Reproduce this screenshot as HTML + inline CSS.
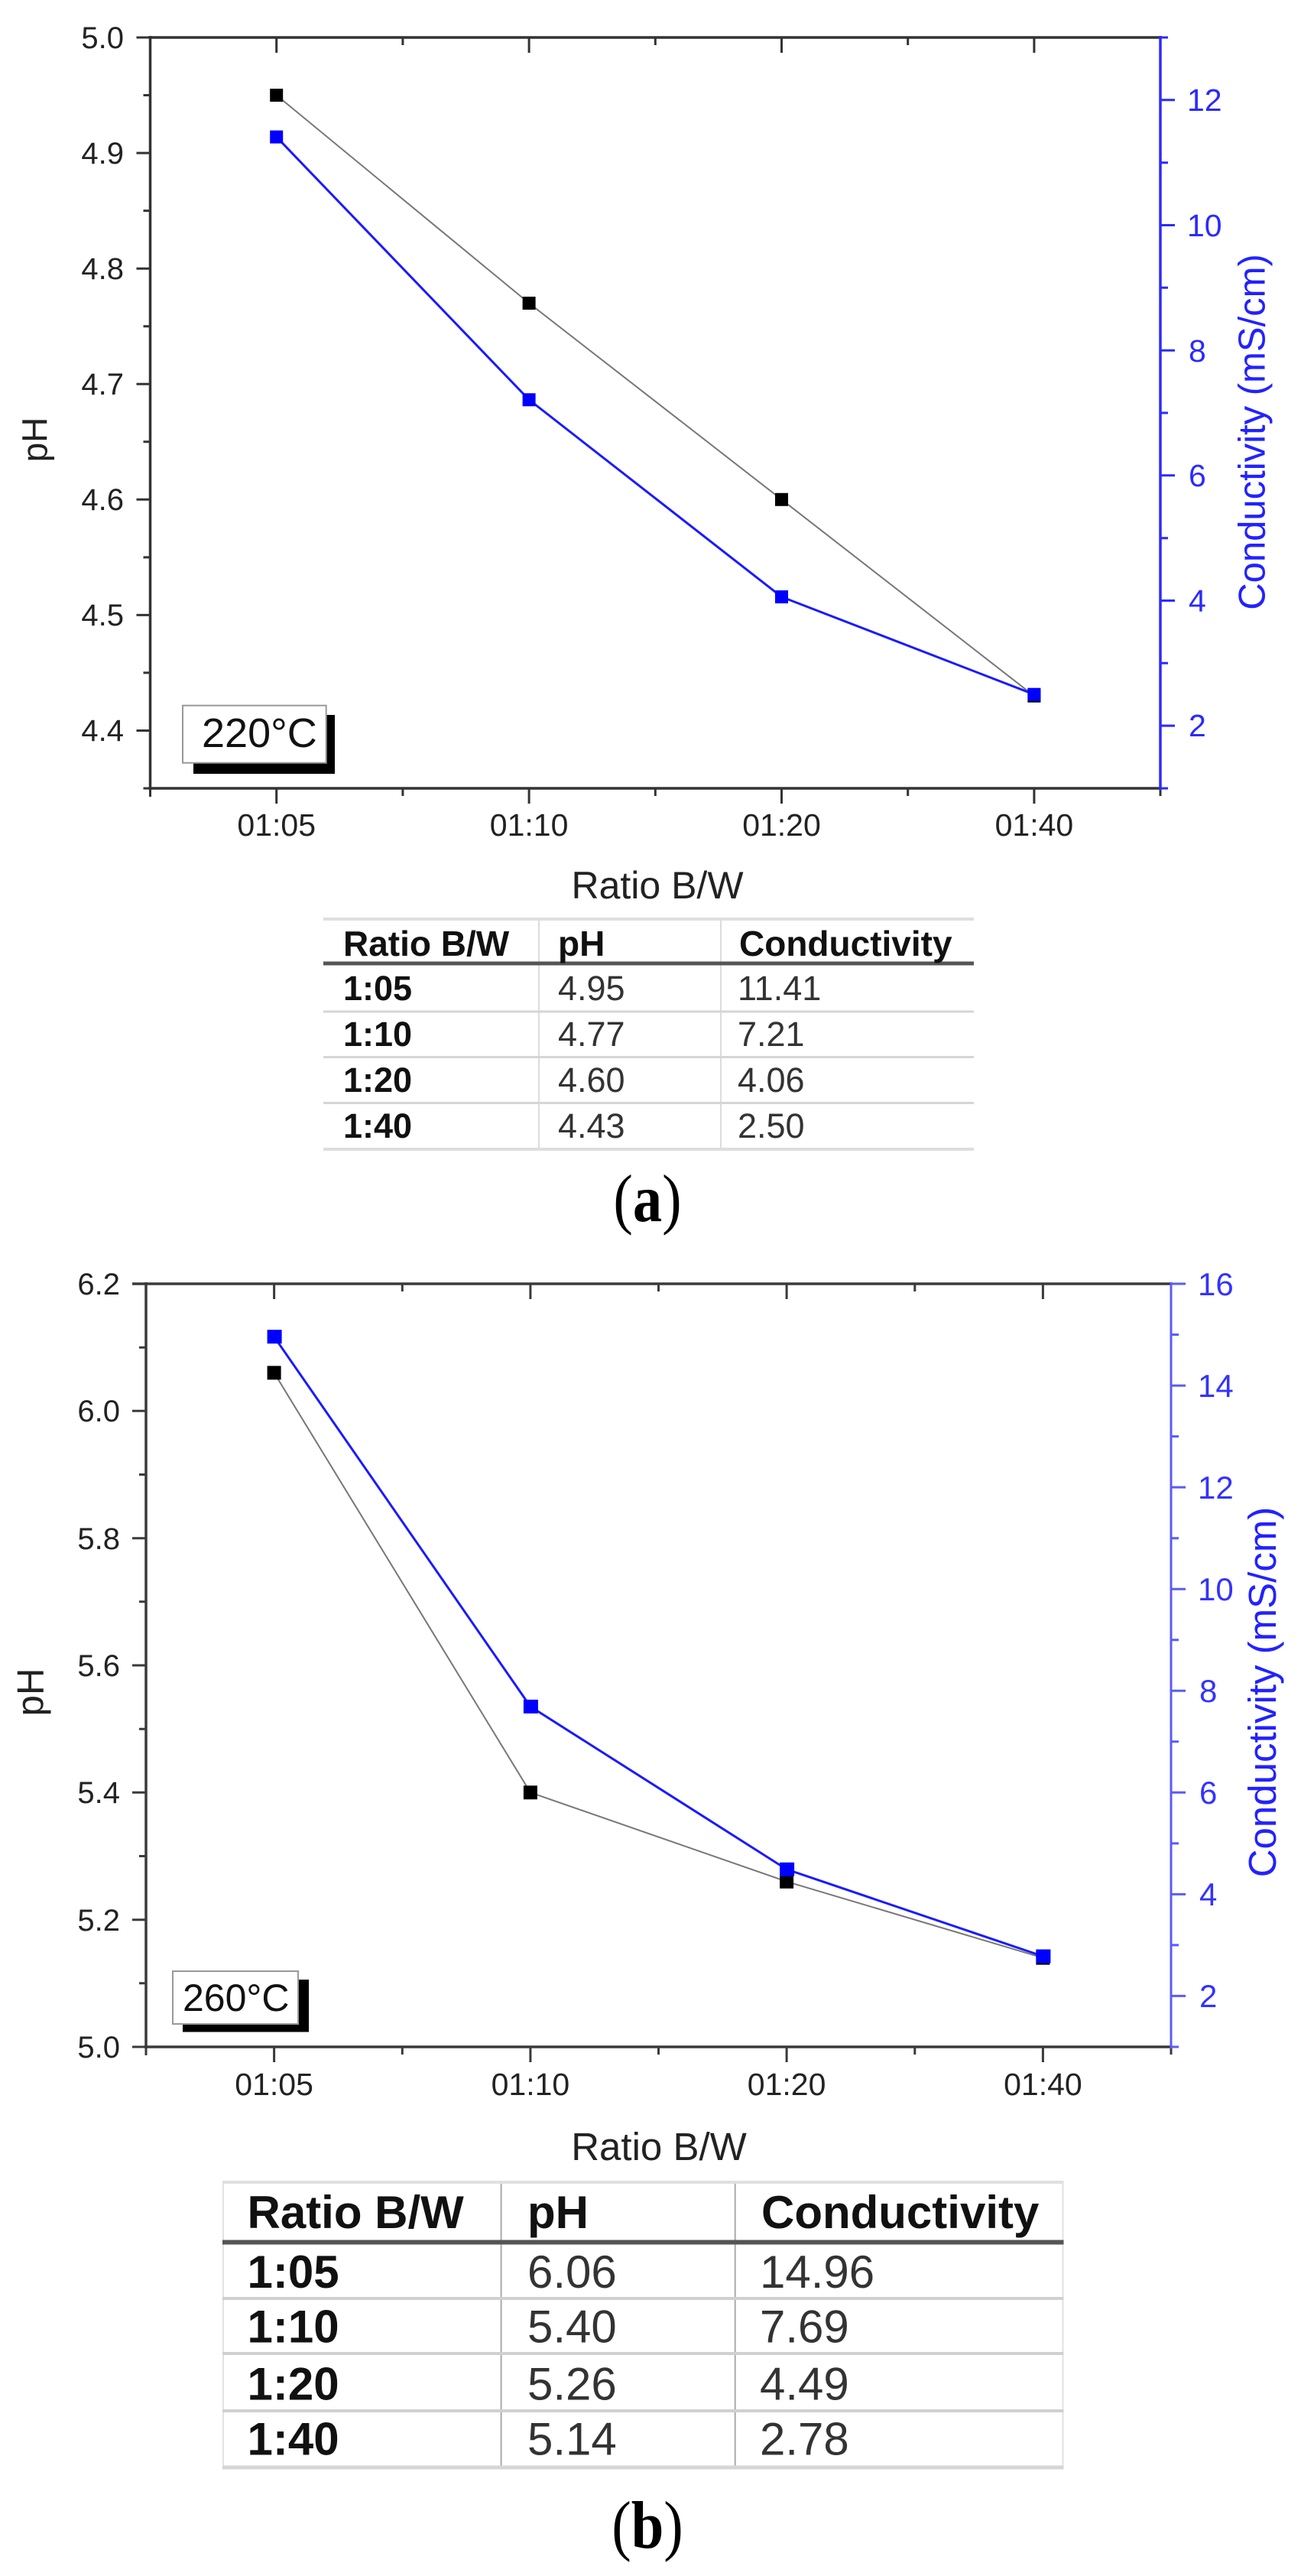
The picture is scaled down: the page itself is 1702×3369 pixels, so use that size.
<!DOCTYPE html>
<html><head><meta charset="utf-8"><style>
html,body{margin:0;padding:0;background:#fff;}
svg{display:block;}
text{font-family:"Liberation Sans",Arial,sans-serif;}
.serif{font-family:"Liberation Serif","Times New Roman",serif;}
</style></head><body>
<svg width="1702" height="3369" viewBox="0 0 1702 3369" xmlns="http://www.w3.org/2000/svg">
<rect width="1702" height="3369" fill="#fff"/>

<!-- ================= PANEL A ================= -->
<g fill="none" stroke="#333" stroke-width="3.5">
<line x1="194.5" y1="49" x2="1518" y2="49"/>
<line x1="194.5" y1="1031" x2="1518" y2="1031"/>
<line x1="196.5" y1="47" x2="196.5" y2="1033"/>
</g>
<g stroke="#333" stroke-width="3">
<!-- left major -->
<path d="M196.5 49h-18M196.5 200.1h-18M196.5 351.2h-18M196.5 502.2h-18M196.5 653.3h-18M196.5 804.4h-18M196.5 955.5h-18"/>
<!-- left minor -->
<path d="M196.5 124.5h-9M196.5 275.6h-9M196.5 426.7h-9M196.5 577.8h-9M196.5 728.9h-9M196.5 879.9h-9M196.5 1031h-9"/>
<!-- bottom -->
<path d="M361.7 1031v20M692.1 1031v20M1022.5 1031v20M1352.9 1031v20"/>
<path d="M196.5 1031v11M526.9 1031v10M857.3 1031v10M1187.7 1031v10M1518 1031v10"/>
<!-- top -->
<path d="M361.7 49v20M692.1 49v20M1022.5 49v20M1352.9 49v20"/>
<path d="M526.9 49v10M857.3 49v10M1187.7 49v10"/>
</g>
<g font-size="40" fill="#222" text-anchor="end">
<text x="162" y="63">5.0</text>
<text x="162" y="214">4.9</text>
<text x="162" y="365">4.8</text>
<text x="162" y="516">4.7</text>
<text x="162" y="667">4.6</text>
<text x="162" y="818">4.5</text>
<text x="162" y="969">4.4</text>
</g>
<g font-size="41" fill="#222" text-anchor="middle">
<text x="361.7" y="1093">01:05</text>
<text x="692.1" y="1093">01:10</text>
<text x="1022.5" y="1093">01:20</text>
<text x="1352.9" y="1093">01:40</text>
</g>
<!-- right axis -->
<line x1="1518" y1="47" x2="1518" y2="1033" stroke="#2b2bff" stroke-width="3.5"/>
<g stroke="#2b2bff" stroke-width="3">
<path d="M1518 130.8h19M1518 294.5h19M1518 458.2h19M1518 621.8h19M1518 785.5h19M1518 949.1h19"/>
<path d="M1518 49h10M1518 212.7h10M1518 376.3h10M1518 540h10M1518 703.7h10M1518 867.3h10M1518 1031h10"/>
</g>
<g font-size="41" fill="#2a2aff">
<text x="1553" y="145">12</text>
<text x="1553" y="309">10</text>
<text x="1555" y="473">8</text>
<text x="1555" y="636">6</text>
<text x="1555" y="800">4</text>
<text x="1555" y="963">2</text>
</g>
<!-- titles -->
<text transform="translate(50,575) rotate(-90)" x="0" y="11.6" font-size="46" fill="#222" text-anchor="middle">pH</text>
<text x="860" y="1175" font-size="50" fill="#222" text-anchor="middle">Ratio B/W</text>
<text transform="translate(1642,565) rotate(-90)" x="0" y="12.7" font-size="49" fill="#2222ff" text-anchor="middle">Conductivity (mS/cm)</text>
<!-- data -->
<polyline points="361.7,124.5 692.1,396.5 1022.5,653.3 1352.9,910.2" fill="none" stroke="#777" stroke-width="2"/>
<g fill="#000">
<rect x="353.2" y="116" width="17" height="17"/>
<rect x="683.6" y="388" width="17" height="17"/>
<rect x="1014" y="644.8" width="17" height="17"/>
<rect x="1344.4" y="901.7" width="17" height="17"/>
</g>
<polyline points="361.7,179.1 692.1,522.8 1022.5,780.6 1352.9,908.2" fill="none" stroke="#1a1aff" stroke-width="3"/>
<g fill="#0000ff">
<rect x="353.2" y="170.6" width="17" height="17"/>
<rect x="683.6" y="514.3" width="17" height="17"/>
<rect x="1014" y="772.1" width="17" height="17"/>
<rect x="1344.4" y="899.7" width="17" height="17"/>
</g>
<!-- label box -->
<rect x="253" y="935" width="185" height="77" fill="#000"/>
<rect x="239" y="922.7" width="187.7" height="75" fill="#fff" stroke="#999" stroke-width="2"/>
<text x="264" y="977" font-size="54" fill="#111">220°C</text>

<!-- table a -->
<g stroke-linecap="butt">
<line x1="705" y1="1202" x2="705" y2="1503" stroke="#dcdcdc" stroke-width="2"/>
<line x1="943" y1="1202" x2="943" y2="1503" stroke="#dcdcdc" stroke-width="2"/>
<line x1="423" y1="1202" x2="1274" y2="1202" stroke="#dedede" stroke-width="4"/>
<line x1="423" y1="1260" x2="1274" y2="1260" stroke="#555" stroke-width="5"/>
<line x1="423" y1="1323" x2="1274" y2="1323" stroke="#d5d5d5" stroke-width="3"/>
<line x1="423" y1="1382.5" x2="1274" y2="1382.5" stroke="#d5d5d5" stroke-width="3"/>
<line x1="423" y1="1442.5" x2="1274" y2="1442.5" stroke="#d5d5d5" stroke-width="3"/>
<line x1="423" y1="1503" x2="1274" y2="1503" stroke="#dedede" stroke-width="4"/>
</g>
<g font-size="46" font-weight="bold" fill="#111">
<text x="449" y="1250">Ratio B/W</text>
<text x="730" y="1250">pH</text>
<text x="967" y="1250">Conductivity</text>
</g>
<g font-size="45" font-weight="bold" fill="#111">
<text x="449" y="1308">1:05</text>
<text x="449" y="1368">1:10</text>
<text x="449" y="1428">1:20</text>
<text x="449" y="1488">1:40</text>
</g>
<g font-size="45" fill="#333">
<text x="730" y="1308">4.95</text>
<text x="730" y="1368">4.77</text>
<text x="730" y="1428">4.60</text>
<text x="730" y="1488">4.43</text>
<text x="965" y="1308">11.41</text>
<text x="965" y="1368">7.21</text>
<text x="965" y="1428">4.06</text>
<text x="965" y="1488">2.50</text>
</g>
<text class="serif" transform="translate(847,1597) scale(0.87,1)" font-size="88" fill="#000" text-anchor="middle">(<tspan font-weight="bold">a</tspan>)</text>

<!-- ================= PANEL B ================= -->
<g fill="none" stroke="#3a3a3a" stroke-width="3.5">
<line x1="173" y1="1679" x2="1532" y2="1679"/>
<line x1="189" y1="2677" x2="1532" y2="2677"/>
<line x1="191" y1="1677" x2="191" y2="2679"/>
</g>
<g stroke="#3a3a3a" stroke-width="3">
<path d="M191 1845.3h-18M191 2011.7h-18M191 2178h-18M191 2344.3h-18M191 2510.7h-18M191 2677h-18"/>
<path d="M191 1762.2h-9M191 1928.5h-9M191 2094.8h-9M191 2261.2h-9M191 2427.5h-9M191 2593.8h-9"/>
<path d="M358.6 2677v20M693.9 2677v20M1029.1 2677v20M1364.4 2677v20"/>
<path d="M191 2677v11M526.3 2677v10M861.5 2677v10M1196.8 2677v10M1532 2677v10"/>
<path d="M358.6 1679v20M693.9 1679v20M1029.1 1679v20M1364.4 1679v20"/>
<path d="M526.3 1679v10M861.5 1679v10M1196.8 1679v10"/>
</g>
<g font-size="40" fill="#222" text-anchor="end">
<text x="157" y="1693">6.2</text>
<text x="157" y="1859">6.0</text>
<text x="157" y="2026">5.8</text>
<text x="157" y="2192">5.6</text>
<text x="157" y="2358">5.4</text>
<text x="157" y="2525">5.2</text>
<text x="157" y="2691">5.0</text>
</g>
<g font-size="41" fill="#222" text-anchor="middle">
<text x="358.6" y="2740">01:05</text>
<text x="693.9" y="2740">01:10</text>
<text x="1029.1" y="2740">01:20</text>
<text x="1364.4" y="2740">01:40</text>
</g>
<line x1="1532" y1="1677" x2="1532" y2="2679" stroke="#5a5aff" stroke-width="3"/>
<g stroke="#5a5aff" stroke-width="3">
<path d="M1532 1679h19M1532 1812.1h19M1532 1945.1h19M1532 2078.2h19M1532 2211.3h19M1532 2344.3h19M1532 2477.4h19M1532 2610.4h19"/>
<path d="M1532 1745.5h10M1532 1878.6h10M1532 2011.7h10M1532 2144.7h10M1532 2277.8h10M1532 2410.9h10M1532 2543.9h10M1532 2677h10"/>
</g>
<g font-size="42" fill="#3333ff">
<text x="1567" y="1694">16</text>
<text x="1567" y="1827">14</text>
<text x="1567" y="1960">12</text>
<text x="1567" y="2093">10</text>
<text x="1569" y="2226">8</text>
<text x="1569" y="2359">6</text>
<text x="1569" y="2492">4</text>
<text x="1569" y="2625">2</text>
</g>
<text transform="translate(44,2213) rotate(-90)" x="0" y="12.4" font-size="49" fill="#222" text-anchor="middle">pH</text>
<text x="862" y="2825" font-size="51" fill="#222" text-anchor="middle">Ratio B/W</text>
<text transform="translate(1655.5,2213) rotate(-90)" x="0" y="13.3" font-size="51" fill="#2222ff" text-anchor="middle">Conductivity (mS/cm)</text>
<!-- data -->
<polyline points="358.6,1795.4 693.9,2344.3 1029.1,2460.8 1364.4,2560.6" fill="none" stroke="#777" stroke-width="2"/>
<g fill="#000">
<rect x="349.6" y="1786.4" width="18" height="18"/>
<rect x="684.9" y="2335.3" width="18" height="18"/>
<rect x="1020.1" y="2451.8" width="18" height="18"/>
<rect x="1355.4" y="2551.6" width="18" height="18"/>
</g>
<polyline points="358.6,1748.2 693.9,2231.9 1029.1,2444.8 1364.4,2558.5" fill="none" stroke="#1a1aff" stroke-width="3"/>
<g fill="#0000ff">
<rect x="349.6" y="1739.2" width="19" height="18"/>
<rect x="684.9" y="2222.9" width="19" height="18"/>
<rect x="1020.1" y="2435.8" width="19" height="18"/>
<rect x="1355.4" y="2549.5" width="19" height="18"/>
</g>
<rect x="239" y="2589" width="165" height="68.5" fill="#000"/>
<rect x="226" y="2578" width="164" height="69" fill="#fff" stroke="#999" stroke-width="2"/>
<text x="239" y="2630" font-size="50" fill="#111">260°C</text>

<!-- table b -->
<g>
<line x1="292" y1="2854" x2="292" y2="3227" stroke="#e2e2e2" stroke-width="2"/>
<line x1="1390.5" y1="2854" x2="1390.5" y2="3227" stroke="#e2e2e2" stroke-width="2"/>
<line x1="655.6" y1="2854" x2="655.6" y2="3227" stroke="#aaa" stroke-width="2"/>
<line x1="961.7" y1="2854" x2="961.7" y2="3227" stroke="#aaa" stroke-width="2"/>
<line x1="291" y1="2854" x2="1391.5" y2="2854" stroke="#e0e0e0" stroke-width="4"/>
<line x1="291" y1="2932.5" x2="1391.5" y2="2932.5" stroke="#555" stroke-width="6"/>
<line x1="291" y1="3006" x2="1391.5" y2="3006" stroke="#d0d0d0" stroke-width="4"/>
<line x1="291" y1="3078" x2="1391.5" y2="3078" stroke="#d0d0d0" stroke-width="4"/>
<line x1="291" y1="3153" x2="1391.5" y2="3153" stroke="#d0d0d0" stroke-width="4"/>
<line x1="291" y1="3227" x2="1391.5" y2="3227" stroke="#d6d6d6" stroke-width="5"/>
</g>
<g font-size="60" font-weight="bold" fill="#111">
<text x="323.5" y="2914">Ratio B/W</text>
<text x="690" y="2914">pH</text>
<text x="996" y="2914">Conductivity</text>
<text x="323.5" y="2992">1:05</text>
<text x="323.5" y="3063.5">1:10</text>
<text x="323.5" y="3138.5">1:20</text>
<text x="323.5" y="3210.6">1:40</text>
</g>
<g font-size="60" fill="#333">
<text x="690" y="2992">6.06</text>
<text x="690" y="3063.5">5.40</text>
<text x="690" y="3138.5">5.26</text>
<text x="690" y="3210.6">5.14</text>
<text x="994" y="2992">14.96</text>
<text x="994" y="3063.5">7.69</text>
<text x="994" y="3138.5">4.49</text>
<text x="994" y="3210.6">2.78</text>
</g>
<text class="serif" transform="translate(847,3332) scale(0.87,1)" font-size="88" fill="#000" text-anchor="middle">(<tspan font-weight="bold">b</tspan>)</text>
</svg>
</body></html>
